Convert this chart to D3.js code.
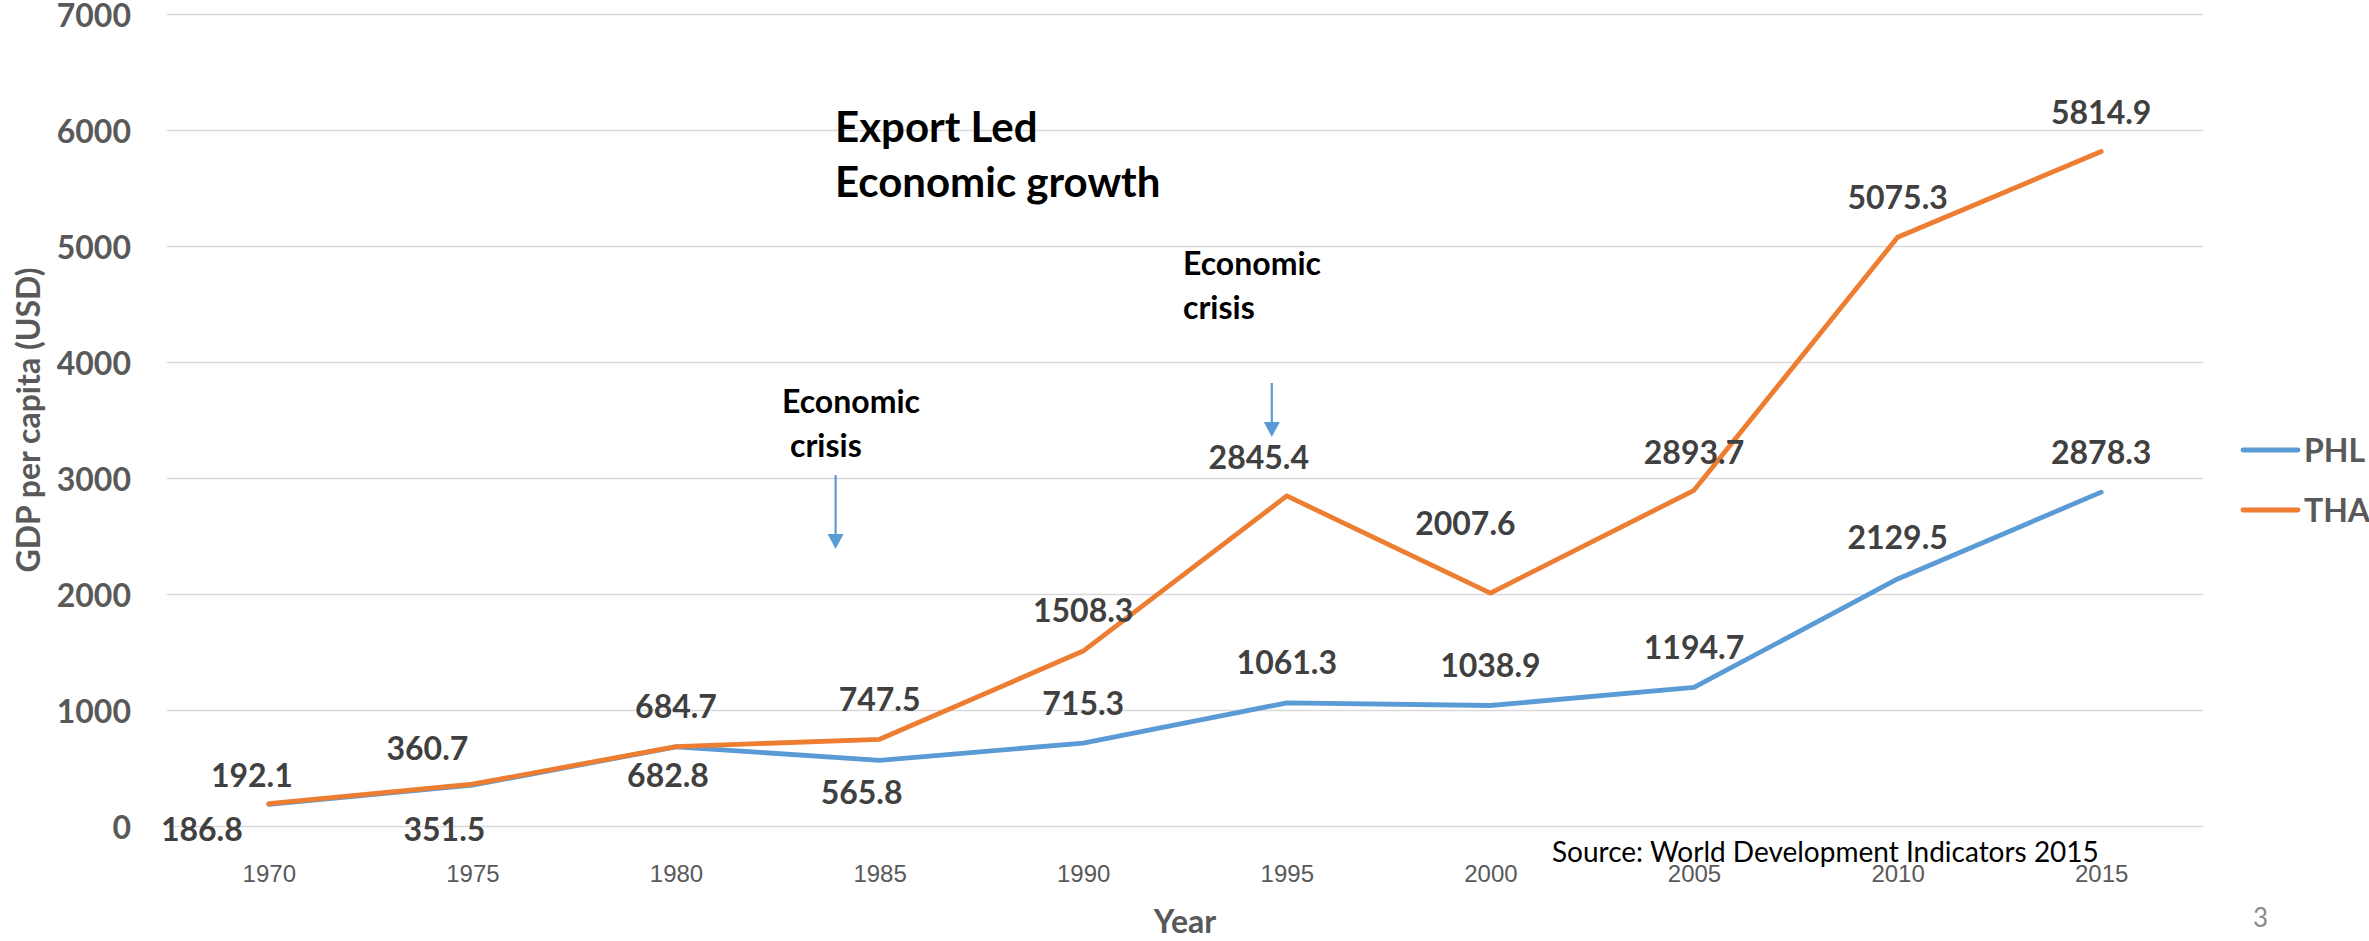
<!DOCTYPE html>
<html>
<head>
<meta charset="utf-8">
<script src="https://cdn.jsdelivr.net/npm/d3@7"></script>
<style>
  html, body { margin: 0; padding: 0; background: #fff; }
  svg { display: block; }
  text { font-family: Lato, "Open Sans", sans-serif; }
</style>
</head>
<body>
<svg id="chart" width="2369" height="941"></svg>
<script>
// ---- data ----
const years = ["1970", "1975", "1980", "1985", "1990", "1995", "2000", "2005", "2010", "2015"];
const phl = [186.8, 351.5, 682.8, 565.8, 715.3, 1061.3, 1038.9, 1194.7, 2129.5, 2878.3];
const tha = [192.1, 360.7, 684.7, 747.5, 1508.3, 2845.4, 2007.6, 2893.7, 5075.3, 5814.9];
const yTicks = [0, 1000, 2000, 3000, 4000, 5000, 6000, 7000];
const seriesNames = ["PHL", "THA"];

// ---- layout (label offsets from each point: [dx, dy]) ----
const phlLabelOffsets = [[-67, 25], [-28, 44], [-8, 29], [-18, 32], [0, -40], [0, -40], [0, -40], [0, -40], [0, -41], [0, -40]];
const thaLabelOffsets = [[-17, -28], [-45, -36], [0, -40], [0, -40], [0, -41], [-28, -38], [-25, -70], [0, -38], [0, -40], [0, -39]];

const colors = { PHL: "#5B9BD5", THA: "#ED7D31" };
const plotLeft = 167, plotRight = 2203, plotTop = 14, plotBottom = 826;

const svg = d3.select("#chart");

const x = d3.scalePoint().domain(years).range([plotLeft, plotRight]).padding(0.5);
const y = d3.scaleLinear().domain([0, 7000]).range([plotBottom, plotTop]);

// gridlines + y tick labels
const yAxis = svg.append("g")
  .attr("transform", `translate(${plotLeft},0)`)
  .call(d3.axisLeft(y).tickValues(yTicks).tickSize(-(plotRight - plotLeft)).tickPadding(36).tickFormat(d3.format("d")));
yAxis.select(".domain").remove();
yAxis.selectAll(".tick line").attr("stroke", "#D9D9D9").attr("stroke-width", 1.7);
yAxis.selectAll(".tick text")
  .attr("dy", "0.38em")
  .style("font-family", "Lato, 'Open Sans', sans-serif")
  .style("font-weight", "bold")
  .style("font-size", "32px")
  .attr("fill", "#595959");

// x axis labels
const xAxis = svg.append("g")
  .attr("transform", `translate(0,${plotBottom})`)
  .call(d3.axisBottom(x).tickSize(0).tickPadding(39));
xAxis.select(".domain").remove();
xAxis.selectAll(".tick text")
  .style("font-family", "'Liberation Sans', Arial, sans-serif")
  .style("font-size", "24px")
  .attr("fill", "#595959");

// lines
const line = d3.line().x((d, i) => x(years[i])).y(d => y(d));
const series = [
  { name: "PHL", values: phl, offsets: phlLabelOffsets },
  { name: "THA", values: tha, offsets: thaLabelOffsets }
];
svg.append("g").selectAll("path").data(series).join("path")
  .attr("d", d => line(d.values))
  .attr("fill", "none")
  .attr("stroke", d => colors[d.name])
  .attr("stroke-width", 4.8)
  .attr("stroke-linecap", "round")
  .attr("stroke-linejoin", "round");

// data labels
series.forEach(s => {
  svg.append("g").selectAll("text").data(s.values).join("text")
    .attr("x", (d, i) => x(years[i]) + s.offsets[i][0])
    .attr("y", (d, i) => y(d) + s.offsets[i][1])
    .attr("dy", "0.36em")
    .attr("text-anchor", "middle")
    .style("font-weight", "bold")
    .style("font-size", "32px")
    .attr("fill", "#404040")
    .text(d => d.toFixed(1));
});

// axis titles
svg.append("text")
  .attr("transform", "translate(40,420) rotate(-90)")
  .attr("text-anchor", "middle")
  .style("font-weight", "bold")
  .style("font-size", "32px")
  .attr("fill", "#595959")
  .text("GDP per capita (USD)");

svg.append("text")
  .attr("x", (plotLeft + plotRight) / 2)
  .attr("y", 933)
  .attr("text-anchor", "middle")
  .style("font-weight", "bold")
  .style("font-size", "32px")
  .attr("fill", "#595959")
  .text("Year");

// legend
const legend = svg.append("g").selectAll("g").data(seriesNames).join("g")
  .attr("transform", (d, i) => `translate(2243,${450 + i * 60})`);
legend.append("line")
  .attr("x1", 0).attr("x2", 55).attr("y1", 0).attr("y2", 0)
  .attr("stroke", d => colors[d]).attr("stroke-width", 4.8).attr("stroke-linecap", "round");
legend.append("text")
  .attr("x", 61).attr("y", 0).attr("dy", "0.36em")
  .style("font-weight", "bold").style("font-size", "32px")
  .attr("fill", "#595959")
  .text(d => d);

// title
const title = svg.append("text").style("font-weight", "bold").style("font-size", "42px").attr("fill", "#000");
title.append("tspan").attr("x", 835).attr("y", 142).text("Export Led");
title.append("tspan").attr("x", 835).attr("y", 197).text("Economic growth");

// annotations
function annotation(tx1, tx2, ty, ax, ay1, ay2) {
  const t = svg.append("text").style("font-weight", "bold").style("font-size", "32px").attr("fill", "#000");
  t.append("tspan").attr("x", tx1).attr("y", ty).text("Economic");
  t.append("tspan").attr("x", tx2).attr("y", ty + 44).text("crisis");
  svg.append("line").attr("x1", ax).attr("x2", ax).attr("y1", ay1).attr("y2", ay2 - 14)
    .attr("stroke", "#5B9BD5").attr("stroke-width", 2.2);
  svg.append("path")
    .attr("d", `M${ax - 8},${ay2 - 15} L${ax + 8},${ay2 - 15} L${ax},${ay2} Z`)
    .attr("fill", "#5B9BD5");
}
annotation(782, 790, 413, x("1985") - 44, 475, 549);
annotation(1183, 1183, 275, x("1995") - 15, 383, 437);

// source and page number
svg.append("text")
  .attr("x", 1552).attr("y", 862)
  .style("font-size", "28px").attr("fill", "#000")
  .text("Source: World Development Indicators 2015");

svg.append("text")
  .attr("x", 2253).attr("y", 927)
  .style("font-size", "26px").attr("fill", "#8A8A8A")
  .text("3");
</script>
</body>
</html>
